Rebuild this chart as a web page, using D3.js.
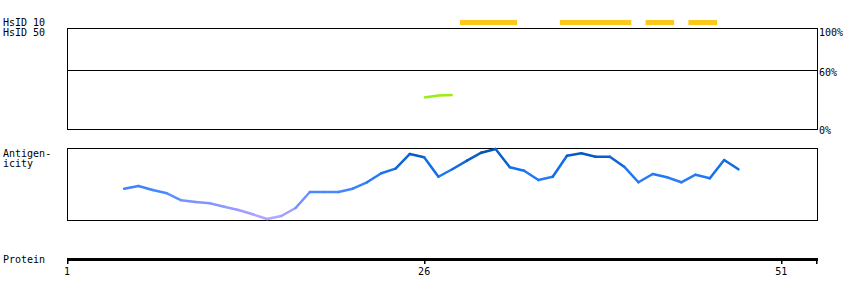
<!DOCTYPE html>
<html>
<head>
<meta charset="utf-8">
<script src="https://cdn.jsdelivr.net/npm/d3@7"></script>
<style>
  body { margin: 0; background: #fff; }
  text { font-family: "DejaVu Sans Mono", monospace; font-size: 10px; fill: #000; }
</style>
</head>
<body>
<div id="chart"></div>
<script>
// protein length and axis ticks
const proteinLength = 53.5;
const axisTicks = [1, 26, 51];

// HsID 10 regions (residue start/end)
const hsid10Regions = [
    { start: 29, end: 32 },
    { start: 36, end: 40 },
    { start: 42, end: 43 },
    { start: 45, end: 46 }
];

// HsID 50 identity (%)
const hsid50Residues = [26, 27, 28];
const hsid50Values = [32.5, 34.5, 35];
const hsid50Ticks = [100, 60, 0];

// antigenicity score per residue
const antigenResidues = [5, 6, 7, 8, 9, 10, 11, 12, 13, 14, 15, 16, 17, 18, 19, 20, 21, 22, 23, 24, 25, 26,
    27, 28, 29, 30, 31, 32, 33, 34, 35, 36, 37, 38, 39, 40, 41, 42, 43, 44, 45, 46, 47, 48];
const antigenValues = [43.5, 47.2, 41.7, 37.1, 27.4, 25, 23.2, 18.5, 13.9, 7.9, 1.4, 5.6, 16.7, 38.9, 38.9, 38.9,
    43.5, 52.4, 64.9, 71.3, 91.7, 87.1, 60.1, 70.8, 82.4, 93.5, 98.6, 73.2, 68.5, 55.6, 60.1, 89.3, 92.6, 87.9,
    87.9, 74, 52.4, 63.9, 59.3, 52.4, 62.9, 57.9, 83.3, 70.4];

const width = 850;
const height = 300;
const left = 67, right = 817;

const svg = d3.select('#chart')
    .append('svg')
    .attr('width', width)
    .attr('height', height);

const xScale = d3.scaleLinear().domain([1, proteinLength]).range([left, right]);

// labels on the left
svg.append('text').attr('x', 3).attr('y', 26).text('HsID 10');
svg.append('text').attr('x', 3).attr('y', 36).text('HsID 50');
svg.append('text').attr('x', 3).attr('y', 157).text('Antigen-');
svg.append('text').attr('x', 3).attr('y', 167).text('icity');
svg.append('text').attr('x', 3).attr('y', 263).text('Protein');

// HsID 10 bars
svg.selectAll('.hsid10')
    .data(hsid10Regions)
    .enter()
    .append('rect')
    .attr('class', 'hsid10')
    .attr('x', d => xScale(d.start - 0.5))
    .attr('y', 20)
    .attr('width', d => xScale(d.end + 0.5) - xScale(d.start - 0.5))
    .attr('height', 5)
    .attr('fill', '#fcc81c');

// HsID 50 panel
const yTop = d3.scaleLinear().domain([0, 100]).range([130, 30]);

svg.append('rect')
    .attr('x', left + 0.5).attr('y', 28.5)
    .attr('width', right - left).attr('height', 101)
    .attr('fill', 'none').attr('stroke', '#000').attr('stroke-width', 1);

svg.append('line')
    .attr('x1', left).attr('x2', right)
    .attr('y1', Math.round(yTop(60)) + 0.5).attr('y2', Math.round(yTop(60)) + 0.5)
    .attr('stroke', '#000');

svg.selectAll('.pct')
    .data(hsid50Ticks)
    .enter()
    .append('text')
    .attr('class', 'pct')
    .attr('x', right + 2)
    .attr('y', d => Math.min(yTop(d), 128) + 6)
    .text(d => d + '%');

const topLine = d3.line()
    .x((d, i) => xScale(hsid50Residues[i]))
    .y(d => yTop(d));

svg.append('path')
    .datum(hsid50Values)
    .attr('d', topLine)
    .attr('fill', 'none')
    .attr('stroke', '#99ee11')
    .attr('stroke-width', 2.5);

// antigenicity panel
const yAnt = d3.scaleLinear().domain([0, 100]).range([220, 148]);
const colorScale = d3.scaleLinear()
    .domain([0, 20, 40, 70, 100])
    .range(['#b8a8ff', '#8c98ff', '#4488ff', '#1670f0', '#0050b0']);

svg.append('rect')
    .attr('x', left + 0.5).attr('y', 148.5)
    .attr('width', right - left).attr('height', 72)
    .attr('fill', 'none').attr('stroke', '#000').attr('stroke-width', 1);

const segments = d3.pairs(antigenResidues.map((r, i) => ({ r: r, v: antigenValues[i] })));

svg.selectAll('.seg')
    .data(segments)
    .enter()
    .append('line')
    .attr('class', 'seg')
    .attr('x1', d => xScale(d[0].r))
    .attr('y1', d => yAnt(d[0].v))
    .attr('x2', d => xScale(d[1].r))
    .attr('y2', d => yAnt(d[1].v))
    .attr('stroke', d => colorScale((d[0].v + d[1].v) / 2))
    .attr('stroke-width', 2.5)
    .attr('stroke-linecap', 'round');

// protein axis
svg.append('rect')
    .attr('x', left).attr('y', 258)
    .attr('width', right - left + 1).attr('height', 3)
    .attr('fill', '#000');

svg.selectAll('.tick')
    .data(axisTicks.concat([proteinLength]))
    .enter()
    .append('rect')
    .attr('class', 'tick')
    .attr('x', d => Math.round(xScale(d)) - 0.5 * (d === proteinLength ? 2 : 0))
    .attr('y', 258)
    .attr('width', 1.5)
    .attr('height', 6)
    .attr('fill', '#000');

svg.selectAll('.tick-label')
    .data(axisTicks)
    .enter()
    .append('text')
    .attr('class', 'tick-label')
    .attr('x', d => xScale(d))
    .attr('y', 275)
    .attr('text-anchor', 'middle')
    .text(d => d);
</script>
</body>
</html>
